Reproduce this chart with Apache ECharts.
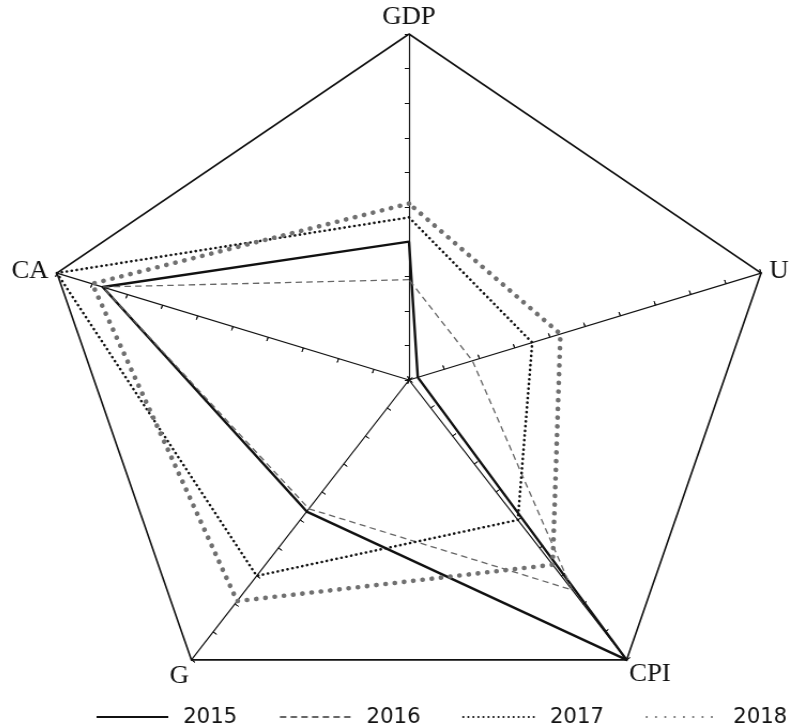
<!DOCTYPE html>
<html>
<head>
<meta charset="utf-8">
<script src="https://cdn.jsdelivr.net/npm/echarts@6/dist/echarts.min.js"></script>
<style>
  html, body { margin: 0; padding: 0; background: #fff; overflow: hidden; }
  /* the source figure is a little wider than it is tall */
  #container { width: 793px; height: 727px; transform: scaleX(1.07); transform-origin: 409px 0; }
</style>
</head>
<body>
<div id="container"></div>
<script>
// indicators, counter-clockwise from the top
var indicators = ['GDP', 'CA', 'G', 'CPI', 'U'];
var years = ['2015', '2016', '2017', '2018'];
var v2015 = [4.0, 8.7, 4.7, 10, 0.25];
var v2016 = [2.9, 8.7, 4.6, 7.5, 1.8];
var v2017 = [4.7, 10, 7.0, 5.0, 3.5];
var v2018 = [5.1, 9.0, 7.9, 6.6, 4.3];
var values = [v2015, v2016, v2017, v2018];

var styles = [
    {color: '#111', width: 2.4, type: 'solid'},
    {color: '#666', width: 1.3, type: [6, 4]},
    {color: '#111', width: 2.6, type: [0.1, 4.6], cap: 'round'},
    {color: '#707070', width: 4.6, type: [0.1, 8.6], cap: 'round'}
];

// which rich style each axis name uses (nudges the labels like the source)
var nameStyle = {GDP: 'top', CA: 'left', G: 'low', CPI: 'low2', U: 'right'};

var dom = document.getElementById('container');
var myChart = echarts.init(dom);

var splitColors = [];
for (var i = 0; i < 10; i++) splitColors.push('rgba(0,0,0,0)');
splitColors.push('#111');

var radarBase = {
    center: [409, 380],
    radius: 346,
    startAngle: 90,
    splitNumber: 10,
    shape: 'polygon',
    indicator: indicators.map(function (n) { return {name: n, min: 0, max: 10}; }),
    splitArea: {show: false}
};

var font = {fontFamily: 'Liberation Serif', fontSize: 25, color: '#111'};
function rich(pad) { return Object.assign({padding: pad}, font); }

var series = [];
// empty line series, only so the legend shows line-style icons
years.forEach(function (y, k) {
    series.push({
        name: y, type: 'line', data: [], symbol: 'none',
        lineStyle: styles[k], itemStyle: {color: styles[k].color}
    });
});
years.forEach(function (y, k) {
    series.push({
        name: y,
        type: 'radar',
        radarIndex: 0,
        symbol: 'none',
        silent: true,
        lineStyle: styles[k],
        itemStyle: {color: styles[k].color},
        data: [{value: values[k], name: y}]
    });
});

option = {
    backgroundColor: '#fff',
    animation: false,
    grid: {show: false, left: 0, top: 0, width: 1, height: 1},
    xAxis: {type: 'category', show: false},
    yAxis: {type: 'value', show: false},
    legend: {
        data: years,
        left: 111,
        top: 701,
        itemWidth: 67,
        itemHeight: 14,
        itemGap: 39,
        itemStyle: {opacity: 0, borderWidth: 0},
        textStyle: {fontFamily: 'DejaVu Sans Condensed', fontSize: 22, color: '#111', padding: [0, 0, 0, 9]}
    },
    radar: [
        Object.assign({}, radarBase, {
            nameGap: 4,
            axisName: Object.assign({
                formatter: function (name) { return '{' + nameStyle[name] + '|' + name + '}'; },
                rich: {
                    top: rich([0, 0, 0, 0]),
                    left: rich([0, 4, 0, 0]),
                    right: rich([0, 0, 0, 4]),
                    low: rich([26, 0, 0, 0]),
                    low2: rich([22, 0, 0, 0])
                }
            }, font),
            axisLine: {lineStyle: {color: '#111', width: 1.2}},
            axisTick: {show: true, length: 4, lineStyle: {color: '#111', width: 1}},
            splitLine: {lineStyle: {color: splitColors, width: 1.6}}
        }),
        Object.assign({}, radarBase, {
            axisName: {show: false},
            axisLine: {show: false},
            axisTick: {show: true, inside: true, length: 4, lineStyle: {color: '#111', width: 1}},
            splitLine: {show: false}
        })
    ],
    series: series
};

if (option && typeof option === "object") {
    myChart.setOption(option, true);
}
</script>
</body>
</html>
